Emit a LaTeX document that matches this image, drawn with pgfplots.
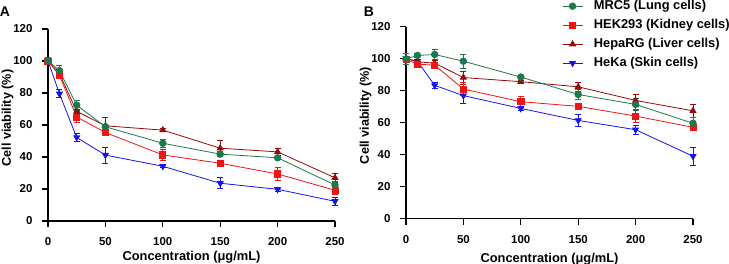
\documentclass[border=0pt]{standalone}
\usepackage{pgfplots}
\pgfplotsset{compat=1.18}
\usepackage{fontspec}
\setmainfont{Liberation Sans}
\definecolor{cgreen}{RGB}{30,120,75}
\definecolor{cred}{RGB}{240,20,20}
\definecolor{cdred}{RGB}{150,10,10}
\definecolor{cblue}{RGB}{20,20,235}
\pgfplotsset{
  myaxis/.style={
    scale only axis, width=287bp, height=192bp,
    xmin=0, xmax=250, ymin=0, ymax=120,
    axis lines*=left,
    axis line style={line width=1.3bp, black},
    xtick={0,50,100,150,200,250},
    ytick={0,20,40,60,80,100,120},
    tick align=outside,
    major tick length=6bp,
    every tick/.style={line width=1.3bp, black},
    tick label style={font=\bfseries\fontsize{11.5}{14}\selectfont},
    xticklabel style={yshift=-7bp},
    yticklabel style={xshift=-6bp},
    /pgf/number format/assume math mode=true,
    clip=false,
    xlabel={Concentration (μg/mL)},
    ylabel={Cell viability (\%)},
    xlabel style={font=\bfseries\fontsize{12.9}{14}\selectfont, at={(axis description cs:0.5,0)}, anchor=base},
    ylabel style={font=\bfseries\fontsize{12.7}{14}\selectfont, at={(axis description cs:-0.1411,0.536)}, anchor=center},
    every axis plot/.append style={line width=0.8bp,
      error bars/y dir=both, error bars/y explicit,
      error bars/error bar style={line width=0.8bp},
      error bars/error mark options={rotate=90, mark size=3bp, line width=0.8bp}},
  },
  sg/.style={color=cgreen, mark=*, mark size=3.3bp, mark options={solid, fill=cgreen, draw=cgreen}},
  sr/.style={color=cred, mark=square*, mark size=3.1bp, mark options={solid, fill=cred, draw=cred}},
  sd/.style={color=cdred, mark=triangle*, mark size=3.4bp, mark options={solid, fill=cdred, draw=cdred}},
  sb/.style={color=cblue, mark=triangle*, mark size=3.4bp, mark options={solid, rotate=180, fill=cblue, draw=cblue}},
}
\begin{document}
\begin{tikzpicture}
\useasboundingbox (-48bp,-43bp) rectangle (681bp,221bp);
\begin{axis}[myaxis, at={(0bp,0bp)}, anchor=south west,
  xlabel style={yshift=-39.5bp}]
\addplot[sb] coordinates {(0,100) +- (0,1) (10,79.5) +- (0,2.5) (25,52.2) +- (0,2.5) (50,41.2) +- (0,5) (100,34.2) +- (0,1) (150,23.6) +- (0,3.5) (200,19.8) +- (0,1) (250,12.3) +- (0,2.5)};
\addplot[sd] coordinates {(0,100) +- (0,1) (10,92) +- (0,1) (25,68.5) +- (0,1.5) (50,59.5) +- (0,5) (100,56.8) +- (0,1) (150,45.5) +- (0,5) (200,43.2) +- (0,2) (250,27) +- (0,3)};
\addplot[sr] coordinates {(0,100) +- (0,2) (10,91) +- (0,1.5) (25,65) +- (0,3.5) (50,55.3) +- (0,2) (100,41.3) +- (0,3.5) (150,36.1) +- (0,1) (200,29.4) +- (0,4) (250,19.2) +- (0,2.5)};
\addplot[sg] coordinates {(0,100) +- (0,2) (10,94) +- (0,3.5) (25,72.4) +- (0,3) (50,58.9) +- (0,1.5) (100,48.6) +- (0,2.5) (150,41.8) +- (0,1.5) (200,39.5) +- (0,1) (250,22.5) +- (0,2.5)};
\end{axis}
\begin{axis}[myaxis, at={(358bp,2.5bp)}, anchor=south west,
  xlabel style={yshift=-43.5bp},
  legend image code/.code={\draw[mark repeat=2,mark phase=2] plot coordinates {(0bp,0bp) (10bp,0bp) (20bp,0bp)};},
  legend style={at={(axis description cs:0.533,1.155)}, anchor=north west, draw=none, fill=none,
    font=\bfseries\fontsize{12.9}{14}\selectfont, row sep=4.5bp,
    nodes={inner sep=1bp, text height=9.5bp, text depth=3bp},
    /tikz/every odd column/.append style={column sep=10bp}},
  legend cell align=left, reverse legend]
\addplot[sb] coordinates {(0,100) +- (0,1) (10,98.3) +- (0,1) (25,83.2) +- (0,2) (50,76.8) +- (0,5) (100,68.8) +- (0,1) (150,61.3) +- (0,4) (200,55.5) +- (0,3) (250,38.9) +- (0,5.5)};
\addlegendentry{HeKa (Skin cells)}
\addplot[sd] coordinates {(0,100) +- (0,1) (10,97.9) +- (0,1.5) (25,97.1) +- (0,2) (50,88.1) +- (0,4) (100,85.5) +- (0,1) (150,82.3) +- (0,3) (200,73.8) +- (0,3.5) (250,67.3) +- (0,4)};
\addlegendentry{HepaRG (Liver cells)}
\addplot[sr] coordinates {(0,99.5) +- (0,2) (10,96.5) +- (0,2) (25,95.8) +- (0,1) (50,80.9) +- (0,4) (100,73) +- (0,3.5) (150,70.1) +- (0,2) (200,64) +- (0,4) (250,57) +- (0,1)};
\addlegendentry{HEK293 (Kidney cells)}
\addplot[sg] coordinates {(0,99.8) +- (0,3.5) (10,101.9) +- (0,1) (25,102.5) +- (0,3) (50,98.3) +- (0,4.5) (100,88.4) +- (0,1) (150,77.5) +- (0,3) (200,71.3) +- (0,3.5) (250,59.5) +- (0,4)};
\addlegendentry{MRC5 (Lung cells)}
\end{axis}
\node[font=\bfseries\fontsize{14}{16}\selectfont] at (-43bp,209bp) {A};
\node[font=\bfseries\fontsize{14}{16}\selectfont] at (321bp,209bp) {B};
\end{tikzpicture}
\end{document}
